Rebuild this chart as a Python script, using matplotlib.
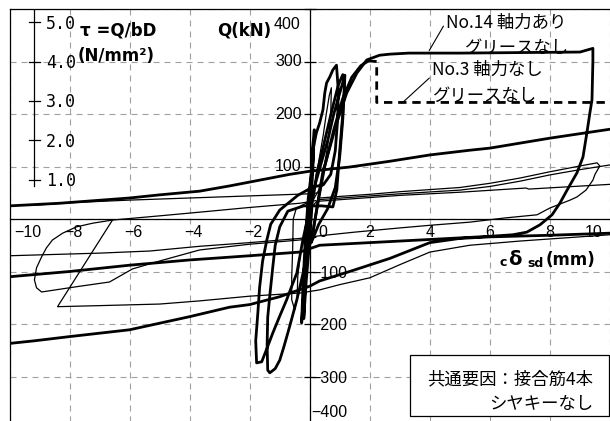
import numpy as np
import matplotlib.pyplot as plt
from matplotlib.patches import Rectangle

plt.rcParams['font.family'] = ['Liberation Sans', 'Noto Sans CJK JP', 'DejaVu Sans']

W, H = 610, 421

# thick curve, ends in dashed part (No.3)
n3_d = [0, 0.03, 0.08, 0.12, 0.08, -0.05, -0.15, -0.22, -0.27, -0.2, -0.1, 0.0, 0.06, 0.1, 0.17, 0.22,
        0.33, 0.44, 0.5, 0.56, 0.67, 0.77, 0.89, 0.95, 0.93, 0.85, 0.7, 0.45, 0.1, -0.4, -1.0, -1.3,
        -1.43, -1.57, -1.67, -1.73, -1.8, -1.77, -1.6, -1.45, -1.23, -1.0, -0.77, -0.6, -0.43, -0.23,
        0.0, 0.2, 0.4, 0.6, 0.8, 1.0, 1.17, 1.15, 1.1, 1.0, 0.9, 0.77, 0.4, -0.2, -0.73, -1.0, -1.15,
        -1.23, -1.32, -1.4, -1.42, -1.4, -1.33, -1.15, -1.0, -0.87, -0.73, -0.6, -0.43, -0.25, -0.1,
        0.1, 0.3, 0.5, 0.8, 1.1, 1.4, 1.7, 1.95]
n3_q = [0, 60, 110, 150, 100, 40, -40, -120, -198, -140, -70, -10, 87, 131, 150, 164,
        183, 208, 240, 259, 271, 284, 293, 246, 190, 130, 85, 65, 61, 45, 17, -10,
        -40, -80, -130, -180, -232, -274, -272, -250, -217, -185, -154, -128, -103, -40,
        20, 70, 110, 150, 200, 240, 274, 240, 200, 131, 55, 23, 25, 25, 15, -15, -50,
        -91, -140, -187, -240, -288, -293, -285, -269, -245, -217, -190, -154, -110, -72,
        -27, 40, 100, 170, 230, 270, 292, 301]
n3_dash_d = [1.95, 2.23, 2.23, 10.5]
n3_dash_q = [301, 300, 222, 222]

# thick curve No.14
n14_d = [0, 0.1, 0.15, 0.12, 0.0, -0.1, -0.15, -0.2, -0.12, 0.0, 0.08, 0.25, 0.5, 0.75, 0.95, 1.1,
         1.15, 1.1, 1.0, 0.85, 0.6, 0.3, 0.05, 0.1, 0.43, 0.9, 1.23, 1.57, 1.9, 2.33, 2.67, 3.3,
         5.0, 7.0, 9.0, 9.43, 9.43, 9.4, 9.33, 9.23, 9.1, 8.9, 8.57, 8.33, 8.07, 7.67, 7.23, 6.77,
         6.0, 5.33, 3.0, 0.33, -0.33, -2.0, -4.0, -6.0, -8.0, -10.0, -10.5, -10.5, -10.0, -8.33,
         -6.0, -5.0, -3.67, -2.67, -0.67, 0.0, 1.33, 2.67, 4.0, 5.33, 6.0, 8.0, 10.0, 10.5, 10.5,
         10.0, 8.0, 6.0, 5.0, 4.0, 2.67, 1.33, 0.33, 0.0, -1.0, -2.0, -2.67, -4.0, -6.0, -8.0,
         -9.17, -10.0, -10.5]
n14_q = [0, 90, 170, 120, 40, -30, -120, -190, -120, -40, 30, 90, 150, 210, 255, 275,
         250, 190, 120, 60, 20, -10, -45, -27, 88, 183, 240, 278, 303, 312, 314, 316,
         316, 317, 318, 325, 300, 227, 202, 164, 118, 88, 55, 30, 8, -11, -25, -30,
         -33, -35, -42, -50, -63, -70, -78, -88, -100, -110, -112, 22, 25, 30,
         40, 46, 53, 63, 85, 91, 99, 110, 122, 131, 135, 154, 171, 175, -25,
         -27, -31, -34, -37, -45, -75, -100, -118, -128, -148, -163, -168, -186, -211, -224,
         -232, -237, -240]

# thin curves
thin_a_d = [0, 0.15, 0.3, 0.45, 0.55, 0.65, 0.72, 0.7, 0.6, 0.45, 0.3, 0.1, -0.2, -0.45, -0.55,
            -0.57, -0.6, -0.6, -0.5, -0.42, -0.4, -0.3, -0.1, 0.1, 0.33, 1.0, 2.0, 3.0, 4.0, 5.0,
            6.0, 7.0, 8.0, 9.0, 9.57, 9.66, 9.5, 9.43, 9.2, 8.9, 8.67, 8.0, 7.57, 6.5, 5.33, 4.0,
            3.0, 1.5, 0.33, -0.33, -2.0, -3.67, -5.33, -7.0, -10.0, -10.5]
thin_a_q = [0, 60, 110, 160, 200, 235, 250, 200, 140, 90, 55, 35, 28, 20, 0,
            -59, -110, -154, -173, -150, -110, -60, -10, 25, 40, 43, 47, 52, 56, 60,
            68, 78, 90, 101, 107, 101, 85, 74, 55, 42, 36, 21, 8, 2, -6, -12,
            -17, -25, -32, -37, -45, -52, -61, -65, -70, -72]
thin_b_d = [0.33, 3.0, 5.0, 6.0, 7.0, 8.0, 9.0, 10.0, 10.5]
thin_b_q = [37, 48, 55, 62, 72, 84, 94, 103, 108]
thin_c_d = [0.33, 3.0, 5.0, 7.2, 7.3, 10.0, 10.5]
thin_c_q = [34, 45, 51, 59, 57, 66, 68]
thin_d_d = [0.2, -0.33, -2.0, -3.67, -5.0, -6.57, -8.4, -7.0, -5.0, -3.67, -2.0, -0.33, 0.33, 1.0,
            2.0, 3.0, 4.0, 5.33, 7.0, 8.0, 10.0, 10.5]
thin_d_q = [35, 30, 22, 13, 6, -2, -167, -165, -162, -156, -147, -141, -135, -125,
            -112, -87, -63, -50, -42, -38, -30, -28]
thin_e_d = [-6.57, -7.23, -7.77, -8.23, -8.57, -8.77, -8.93, -9.1, -9.17, -9.1, -8.93, -7.77,
            -6.67, -5.9, -5.0, -3.67, -2.0, -0.33, 0.2]
thin_e_q = [-2, -8, -15, -27, -40, -55, -72, -93, -116, -131, -139, -129,
            -120, -95, -80, -59, -48, -40, -35]
thin_f_d = [-9.2, -8.0, -6.0, -5.0, -3.0, -1.0, 0.0, 0.3]
thin_f_q = [26, 31, 36, 38, 42, 46, 48, 50]

x_ticks = [-10, -8, -6, -4, -2, 0, 2, 4, 6, 8, 10]
q_ticks = [-400, -300, -200, -100, 100, 200, 300, 400]
tau_ticks = [1.0, 2.0, 3.0, 4.0, 5.0]
q_per_tau = 75.0   # kN per N/mm2 (b*D)

fig = plt.figure(figsize=(W / 100, H / 100), dpi=100)
ax = fig.add_axes([9.5 / W, 1 - 429 / H, 600.5 / W, 420 / H])
ax.set_xlim(-10, 10)
ax.set_ylim(-400, 400)

ax.set_xticks(x_ticks)
ax.set_yticks(list(range(-400, 401, 100)))
ax.grid(True, color='#a0a0a0', linestyle=(0, (5.4, 4.5)), linewidth=0.8)
ax.set_axisbelow(True)
ax.spines['left'].set_position(('data', 0))
ax.spines['bottom'].set_position(('data', 0))
ax.spines['right'].set_visible(False)
for s in ['left', 'bottom', 'top']:
    ax.spines[s].set_linewidth(0.9)
ax.tick_params(axis='x', length=0, labelbottom=False)
ax.tick_params(axis='y', direction='inout', length=8, width=0.9, labelleft=False)
ax.plot([0, 0], [0, 1], transform=ax.transAxes, color='k', lw=0.9, clip_on=False)

thick = dict(color='k', lw=2.0, solid_joinstyle='round')
thin = dict(color='k', lw=0.9, solid_joinstyle='round')
ax.plot(thin_a_d, thin_a_q, **thin)
ax.plot(thin_b_d, thin_b_q, **thin)
ax.plot(thin_c_d, thin_c_q, **thin)
ax.plot(thin_d_d, thin_d_q, **thin)
ax.plot(thin_e_d, thin_e_q, **thin)
ax.plot(thin_f_d, thin_f_q, **thin)
ax.plot(n14_d, n14_q, **thick)
ax.plot(n3_d, n3_q, **thick)
ax.plot(n3_dash_d, n3_dash_q, color='k', lw=2.0, linestyle=(0, (3.0, 2.1)))

# Q tick labels
for q in q_ticks:
    if q == 400:
        ax.text(-0.3, 371, '400', ha='right', va='center', fontsize=11.5)
    elif q > 0:
        ax.text(-0.27, q, str(q), ha='right', va='center', fontsize=11.5)
    elif q == -400:
        ax.text(0.05, -383, '\u2212400', ha='left', va='bottom', fontsize=11.5)
    else:
        ax.text(0.05, q - 3, '\u2212' + str(-q), ha='left', va='center', fontsize=11.5)

# x tick labels
for v in x_ticks:
    if v == -10:
        xp = -9.4
    elif v == 0:
        xp = 0.43
    elif v == 10:
        xp = 9.47
    elif v < 0:
        xp = v + 0.13
    else:
        xp = v
    lab = ('\u2212' + str(-v)) if v < 0 else str(v)
    ax.text(xp, -25, lab, ha='center', va='center', fontsize=11.5)

# tau axis
tau_x = -9.17
ax.plot([tau_x, tau_x], [62, 400], color='k', lw=0.9)
for t in tau_ticks:
    ax.plot([tau_x - 0.18, tau_x + 0.18], [t * q_per_tau] * 2, color='k', lw=0.9)
    ax.text(tau_x + 0.38, t * q_per_tau - 3, '%.1f' % t, ha='left', va='center',
            fontsize=12, family=['DejaVu Sans Mono'])

# box
ax.add_patch(Rectangle((3.33, -375), 6.64, 116, facecolor='white', edgecolor='k', lw=0.9, zorder=5))


def put(px, py, s, **kw):
    fig.text(px / W, 1 - py / H, s, **kw)


jp = ['Noto Sans CJK JP', 'DejaVu Sans']
put(593, 379, '共通要因：接合筋4本', ha='right', va='center', fontsize=12.5, family=jp, zorder=6)
put(593, 404, 'シヤキーなし', ha='right', va='center', fontsize=12.5, family=jp, zorder=6)

put(446, 23, 'No.14 軸力あり', ha='left', va='center', fontsize=12.5, family=jp)
put(465, 48, 'グリースなし', ha='left', va='center', fontsize=12.5, family=jp)
put(432, 70, 'No.3 軸力なし', ha='left', va='center', fontsize=12.5, family=jp)
put(433, 96, 'グリースなし', ha='left', va='center', fontsize=12.5, family=jp)
ax.annotate('', xy=(3.93, 316), xytext=(4.5, 372), arrowprops=dict(arrowstyle='-', lw=0.8, color='k'))
ax.annotate('', xy=(3.0, 217), xytext=(4.05, 272), arrowprops=dict(arrowstyle='-', lw=0.8, color='k'))

bold = dict(fontweight='bold', family=['DejaVu Sans'])
put(80, 35, '\u03c4 =Q/bD', ha='left', va='baseline', fontsize=12, **bold)
put(78, 61, '(N/mm\u00b2)', ha='left', va='baseline', fontsize=12, **bold)
put(217, 35, 'Q(kN)', ha='left', va='baseline', fontsize=12, **bold)

put(499, 266, 'c', ha='left', va='baseline', fontsize=9, **bold)
put(508, 265, '\u03b4', ha='left', va='baseline', fontsize=14, **bold)
put(527, 267, 'sd', ha='left', va='baseline', fontsize=9, **bold)
put(546, 265, '(mm)', ha='left', va='baseline', fontsize=12, **bold)

fig.savefig('out.png', dpi=100)
